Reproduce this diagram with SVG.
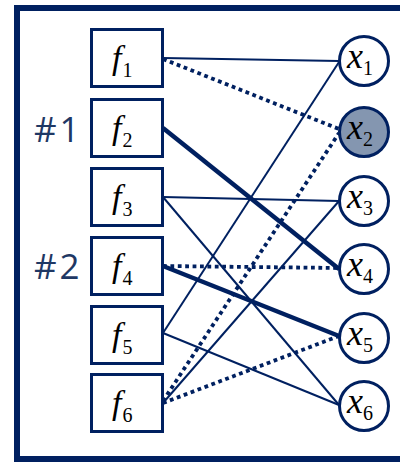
<svg xmlns="http://www.w3.org/2000/svg" width="400" height="462" viewBox="0 0 400 462">
  <style>
    .frame { fill: none; stroke: #002060; stroke-width: 6; }
    .box { fill: #ffffff; stroke: #002060; stroke-width: 3; }
    .var { fill: #ffffff; stroke: #002060; stroke-width: 3; }
    .var.shaded { fill: #8496B0; }
    .thin { stroke: #002060; stroke-width: 2; fill: none; }
    .thick { stroke: #002060; stroke-width: 4.5; fill: none; }
    .dotted { stroke: #002060; stroke-width: 3.8; stroke-dasharray: 3.8 3.6; fill: none; }
    .math { font-family: "Liberation Serif", "DejaVu Serif", serif; fill: #000000; }
    .fs { font-style: italic; font-size: 34px; }
    .xs { font-style: italic; font-size: 36px; }
    .sub { font-size: 20px; }
    .tag { font-family: "Open Sans", "DejaVu Sans", sans-serif; font-size: 35px; letter-spacing: 3px; fill: #1F3864; }
  </style>

  <rect class="frame" x="17" y="8" width="420" height="451"/>

  <!-- connectors: factor nodes on the left, variable nodes on the right -->
  <g id="connectors">
    <line class="thin" x1="163" y1="58" x2="339" y2="61"/>
    <line class="thin" x1="163" y1="197" x2="339" y2="201"/>
    <line class="thin" x1="163" y1="197" x2="339" y2="405"/>
    <line class="thin" x1="163" y1="333" x2="339" y2="62"/>
    <line class="thin" x1="163" y1="333" x2="339" y2="405"/>
    <line class="thin" x1="163" y1="403" x2="339" y2="201"/>
    <line class="thick" x1="163" y1="128" x2="339" y2="269"/>
    <line class="thick" x1="163" y1="266" x2="339" y2="336"/>
    <line class="dotted" x1="163" y1="59" x2="339" y2="129"/>
    <line class="dotted" x1="163" y1="266" x2="339" y2="268"/>
    <line class="dotted" x1="163" y1="401" x2="339" y2="133"/>
    <line class="dotted" x1="163" y1="403" x2="339" y2="336"/>
  </g>

  <!-- factor nodes -->
  <g id="f1">
    <rect class="box" x="91.5" y="29.5" width="71" height="57"/>
    <text class="math" x="112" y="69"><tspan class="fs">f</tspan><tspan class="sub" dx="1" dy="8">1</tspan></text>
  </g>
  <g id="f2">
    <rect class="box" x="91.5" y="99.5" width="71" height="57"/>
    <text class="math" x="112" y="139"><tspan class="fs">f</tspan><tspan class="sub" dx="1" dy="8">2</tspan></text>
  </g>
  <g id="f3">
    <rect class="box" x="91.5" y="168.5" width="71" height="57"/>
    <text class="math" x="112" y="208"><tspan class="fs">f</tspan><tspan class="sub" dx="1" dy="8">3</tspan></text>
  </g>
  <g id="f4">
    <rect class="box" x="91.5" y="237.5" width="71" height="57"/>
    <text class="math" x="112" y="277"><tspan class="fs">f</tspan><tspan class="sub" dx="1" dy="8">4</tspan></text>
  </g>
  <g id="f5">
    <rect class="box" x="91.5" y="306.5" width="71" height="57"/>
    <text class="math" x="112" y="346"><tspan class="fs">f</tspan><tspan class="sub" dx="1" dy="8">5</tspan></text>
  </g>
  <g id="f6">
    <rect class="box" x="91.5" y="374.5" width="71" height="57"/>
    <text class="math" x="112" y="414"><tspan class="fs">f</tspan><tspan class="sub" dx="1" dy="8">6</tspan></text>
  </g>

  <!-- step tags -->
  <g id="tag1"><text class="tag" x="34" y="142">#1</text></g>
  <g id="tag2"><text class="tag" x="34" y="279">#2</text></g>

  <!-- variable nodes -->
  <g id="x1">
    <circle class="var" cx="364" cy="61" r="24.5"/>
    <text class="math" x="347" y="68"><tspan class="xs">x</tspan><tspan class="sub" dy="7">1</tspan></text>
  </g>
  <g id="x2">
    <circle class="var shaded" cx="364" cy="132" r="24.5"/>
    <text class="math" x="347" y="139"><tspan class="xs">x</tspan><tspan class="sub" dy="7">2</tspan></text>
  </g>
  <g id="x3">
    <circle class="var" cx="364" cy="201" r="24.5"/>
    <text class="math" x="347" y="208"><tspan class="xs">x</tspan><tspan class="sub" dy="7">3</tspan></text>
  </g>
  <g id="x4">
    <circle class="var" cx="364" cy="269" r="24.5"/>
    <text class="math" x="347" y="276"><tspan class="xs">x</tspan><tspan class="sub" dy="7">4</tspan></text>
  </g>
  <g id="x5">
    <circle class="var" cx="364" cy="338" r="24.5"/>
    <text class="math" x="347" y="345"><tspan class="xs">x</tspan><tspan class="sub" dy="7">5</tspan></text>
  </g>
  <g id="x6">
    <circle class="var" cx="364" cy="406" r="24.5"/>
    <text class="math" x="347" y="413"><tspan class="xs">x</tspan><tspan class="sub" dy="7">6</tspan></text>
  </g>
</svg>
